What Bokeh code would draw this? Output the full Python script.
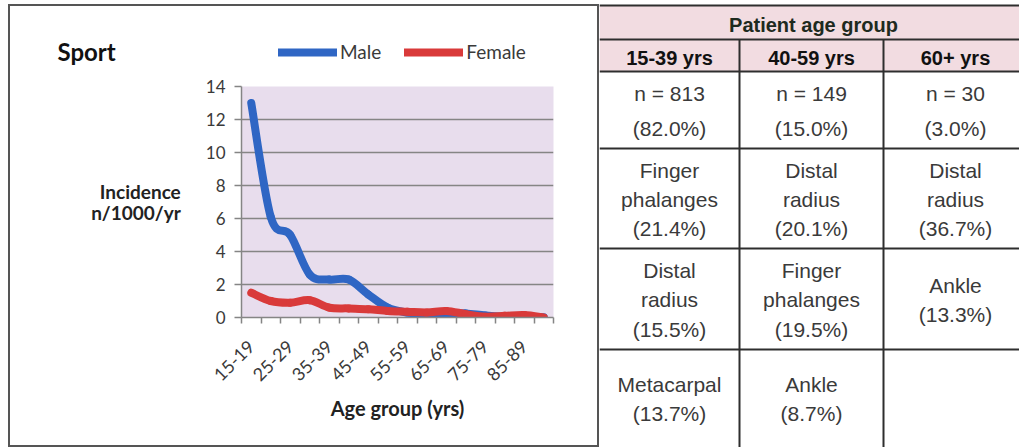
import numpy as np
from bokeh.plotting import figure
from bokeh.models import (Range1d, FixedTicker, Legend, LegendItem, Label, ColumnDataSource)
from bokeh.layouts import row, column
from bokeh.embed import file_html
from bokeh.resources import INLINE
from bokeh.core.properties import value

# ---------------- data ----------------
categories = ["15-19", "20-24", "25-29", "30-34", "35-39", "40-44", "45-49", "50-54",
              "55-59", "60-64", "65-69", "70-74", "75-79", "80-84", "85-89", "90-94"]
male = [13.0, 6.1, 5.0, 2.6, 2.3, 2.3, 1.4, 0.6, 0.3, 0.2, 0.25, 0.25, 0.12, 0.05, 0.03, 0.02]
female = [1.5, 1.0, 0.9, 1.05, 0.6, 0.55, 0.5, 0.4, 0.35, 0.3, 0.4, 0.2, 0.05, 0.1, 0.15, 0.0]
y_ticks = [0, 2, 4, 6, 8, 10, 12, 14]

table_title = "Patient age group"
age_groups = ["15-39 yrs", "40-59 yrs", "60+ yrs"]
counts = [813, 149, 30]
count_pct = [82.0, 15.0, 3.0]
site1 = ["Finger phalanges", "Distal radius", "Distal radius"]
pct1 = [21.4, 20.1, 36.7]
site2 = ["Distal radius", "Finger phalanges", "Ankle"]
pct2 = [15.5, 19.5, 13.3]
site3 = ["Metacarpal", "Ankle", ""]
pct3 = [13.7, 8.7, None]

# ---------------- styles / layout constants ----------------
BLUE = "#2F66C4"
RED = "#D93A3A"
GRID = "#858585"
BG = "#E8DDED"
TXT = "#3A3A3A"
FONT = "Lato"

MARGIN_TOP, MARGIN_LEFT = 4, 8
BORDER = 2
OUTER_H = 443
INNER_W = 587
INNER_H = OUTER_H - 2 * BORDER
HEAD_H = 70
MAIN_H = INNER_H - HEAD_H
W_TABLE = 420
TABLE_H = MARGIN_TOP + OUTER_H


def no_align(fig):
    try:
        fig.frame_align = False
    except Exception:
        pass


# ---------------- header (title + legend) ----------------
h = figure(width=INNER_W, height=HEAD_H, x_range=Range1d(0, INNER_W),
           y_range=Range1d(HEAD_H, 0), toolbar_location=None, output_backend="svg",
           min_border=0, x_axis_location=None, y_axis_location=None)
h.outline_line_color = None
h.grid.visible = False
h.background_fill_color = "white"
h.border_fill_color = "white"
no_align(h)
h.add_layout(Label(x=47, y=45, text="Sport", text_font=FONT, text_font_size="24px",
                   text_font_style="bold", text_color="#111111",
                   text_baseline="alphabetic", text_align="left"))
rm = h.line(x=[np.nan], y=[np.nan], line_color=BLUE, line_width=8, line_cap="round")
rf = h.line(x=[np.nan], y=[np.nan], line_color=RED, line_width=8, line_cap="round")
legend = Legend(items=[LegendItem(label="Male", renderers=[rm]),
                       LegendItem(label="Female", renderers=[rf])],
                location=(268, 13), orientation="horizontal", glyph_width=59,
                glyph_height=20, label_height=20, label_standoff=3, spacing=23,
                padding=0, margin=0, border_line_color=None, background_fill_alpha=0,
                label_text_font=FONT, label_text_font_size="19px", label_text_color=TXT,
                label_text_baseline="middle")
h.add_layout(legend, "center")

# ---------------- chart ----------------
xs = np.arange(len(categories), dtype=float)

FRAME_TOP = 10
FRAME_H = 231
p = figure(width=INNER_W, height=MAIN_H, x_range=Range1d(-0.5, len(categories) - 0.5),
           y_range=Range1d(0, 14), toolbar_location=None, output_backend="svg",
           min_border_left=231, min_border_right=44, min_border_top=FRAME_TOP,
           min_border_bottom=MAIN_H - FRAME_TOP - FRAME_H)
p.background_fill_color = BG
p.border_fill_color = "white"
p.outline_line_color = None
no_align(p)


def bezier_parts(x, y):
    x = np.asarray(x, float)
    y = np.asarray(y, float)
    xp = np.concatenate([[x[0]], x[:-2]])
    yp = np.concatenate([[y[0]], y[:-2]])
    xn = np.concatenate([x[2:], [x[-1]]])
    yn = np.concatenate([y[2:], [y[-1]]])
    x0, y0, x1, y1 = x[:-1], y[:-1], x[1:], y[1:]
    return dict(x0=x0, y0=y0, x1=x1, y1=y1,
                cx0=x0 + (x1 - xp) / 6.0, cy0=y0 + (y1 - yp) / 6.0,
                cx1=x1 - (xn - x0) / 6.0, cy1=y1 - (yn - y0) / 6.0)


p.bezier(source=ColumnDataSource(bezier_parts(xs, male)), x0="x0", y0="y0", x1="x1", y1="y1",
         cx0="cx0", cy0="cy0", cx1="cx1", cy1="cy1", line_color=BLUE, line_width=8,
         line_cap="round")
p.bezier(source=ColumnDataSource(bezier_parts(xs, female)), x0="x0", y0="y0", x1="x1", y1="y1",
         cx0="cx0", cy0="cy0", cx1="cx1", cy1="cy1", line_color=RED, line_width=8,
         line_cap="round")

p.yaxis.ticker = FixedTicker(ticks=y_ticks)
p.ygrid.ticker = FixedTicker(ticks=y_ticks)
p.ygrid.grid_line_color = GRID
p.ygrid.grid_line_width = 1.6
p.xgrid.visible = False

p.yaxis.axis_line_color = GRID
p.yaxis.axis_line_width = 1.5
p.yaxis.major_tick_line_color = GRID
p.yaxis.major_tick_line_width = 1.5
p.yaxis.major_tick_out = 7
p.yaxis.major_tick_in = 0
p.yaxis.minor_tick_line_color = None
p.yaxis.major_label_text_font = FONT
p.yaxis.major_label_text_font_size = "17px"
p.yaxis.major_label_text_color = TXT
p.yaxis.major_label_standoff = 9
p.yaxis.axis_label = "Incidence\nn/1000/yr"
p.yaxis.axis_label_text_font = FONT
p.yaxis.axis_label_text_font_size = "19px"
p.yaxis.axis_label_text_font_style = "bold"
p.yaxis.axis_label_text_color = "#222222"
p.yaxis.axis_label_text_line_height = 0.95
p.yaxis.axis_label_standoff = 22
try:
    p.yaxis.axis_label_orientation = "horizontal"
except Exception:
    pass

label_pos = [int(i) for i in xs[::2]]
p.xaxis.ticker = FixedTicker(ticks=label_pos, minor_ticks=list(xs - 0.5) + [xs[-1] + 0.5])
p.xaxis.major_label_overrides = {i: categories[i] for i in label_pos}
p.xaxis.major_tick_line_color = None
p.xaxis.major_tick_out = 0
p.xaxis.major_tick_in = 0
p.xaxis.minor_tick_line_color = GRID
p.xaxis.minor_tick_line_width = 1.5
p.xaxis.minor_tick_out = 6
p.xaxis.minor_tick_in = 0
p.xaxis.axis_line_color = GRID
p.xaxis.axis_line_width = 1.5
p.xaxis.major_label_orientation = np.pi / 4
p.xaxis.major_label_text_font = FONT
p.xaxis.major_label_text_font_size = "18px"
p.xaxis.major_label_text_color = TXT
p.xaxis.major_label_standoff = 20
p.xaxis.axis_label = "Age group (yrs)"
p.xaxis.axis_label_text_font = FONT
p.xaxis.axis_label_text_font_size = "20px"
p.xaxis.axis_label_text_font_style = "bold"
p.xaxis.axis_label_text_color = "#222222"
p.xaxis.axis_label_standoff = 6

chart = column(h, p, spacing=0, margin=(MARGIN_TOP, 0, 0, MARGIN_LEFT),
               styles={"border": "%dpx solid #555555" % BORDER, "background": "white"})

# ---------------- table ----------------
t = figure(width=W_TABLE, height=TABLE_H, x_range=Range1d(0, W_TABLE),
           y_range=Range1d(TABLE_H, 0), toolbar_location=None, output_backend="svg",
           min_border=0, x_axis_location=None, y_axis_location=None)
t.outline_line_color = None
t.grid.visible = False
t.background_fill_color = "white"
t.border_fill_color = "white"
no_align(t)

col_edges = [0, 140, 284, 428]
row_edges = [5, 39, 71, 148, 248, 349, 452]
col_c = [(col_edges[i] + col_edges[i + 1]) / 2 for i in range(3)]
row_c = [(row_edges[i] + row_edges[i + 1]) / 2 for i in range(len(row_edges) - 1)]
LINE = "#2E2E2E"

t.quad(left=[col_edges[0]], right=[col_edges[-1]], top=[row_edges[0]], bottom=[row_edges[2]],
       fill_color="#F2DCE1", line_color=None)
t.segment(x0=[col_edges[0]] * len(row_edges), x1=[col_edges[-1]] * len(row_edges),
          y0=row_edges, y1=row_edges, line_color=LINE, line_width=2)
t.segment(x0=[col_edges[-1]], x1=[col_edges[-1]],
          y0=[row_edges[0]], y1=[row_edges[-1]], line_color=LINE, line_width=2)
t.segment(x0=col_edges[1:3], x1=col_edges[1:3], y0=[row_edges[1]] * 2,
          y1=[row_edges[-1]] * 2, line_color=LINE, line_width=2)

HFONT = value("Liberation Sans")
t.text(x=[(col_edges[0] + col_edges[-1]) / 2], y=[row_c[0] + 2], text=[table_title],
       text_font=HFONT, text_font_size="20px", text_font_style="bold",
       text_color="#1E2A1E", text_align="center", text_baseline="middle")
t.text(x=col_c, y=[row_c[1] + 2] * 3, text=age_groups, text_font=HFONT,
       text_font_size="20px", text_font_style="bold", text_color="#111111",
       text_align="center", text_baseline="middle")


def cell(site, pct):
    if pct is None:
        return ""
    return site.replace(" ", "\n") + "\n(%.1f%%)" % pct


row1 = ["n = %d\n(%.1f%%)" % (c, q) for c, q in zip(counts, count_pct)]
row2 = [cell(s, q) for s, q in zip(site1, pct1)]
row3 = [cell(s, q) for s, q in zip(site2, pct2)]
row4 = [cell(s, q) for s, q in zip(site3, pct3)]

t.text(x=col_c, y=[row_c[2] + 1] * 3, text=row1, text_font=HFONT, text_font_size="21px",
       text_color=TXT, text_align="center", text_baseline="middle", text_line_height=1.5)
for r, rc in zip([row2, row3, row4], [row_c[3] + 1, row_c[4] + 1, row_c[5] - 2]):
    t.text(x=col_c, y=[rc] * 3, text=r, text_font=HFONT, text_font_size="21px",
           text_color=TXT, text_align="center", text_baseline="middle",
           text_line_height=1.27)

layout = row(chart, t, spacing=0)
open("out.html", "w").write(file_html(layout, INLINE))
